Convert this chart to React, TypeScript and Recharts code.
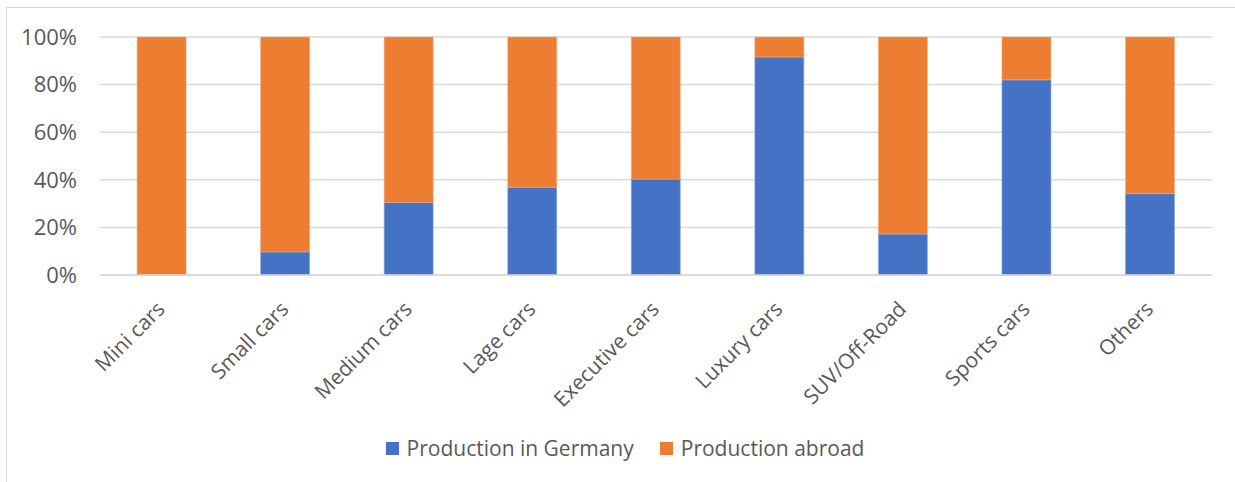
import { Bar, BarChart, CartesianGrid, Legend, XAxis, YAxis } from "recharts";

const categories = [
  "Mini cars",
  "Small cars",
  "Medium cars",
  "Lage cars",
  "Executive cars",
  "Luxury cars",
  "SUV/Off-Road",
  "Sports cars",
  "Others",
];

// share produced in Germany, in percent
const germany = [0, 9.7, 30.5, 36.9, 40.3, 91.6, 17.2, 82.0, 34.2];
const abroad = germany.map((g) => 100 - g);

const yTicks = [0, 20, 40, 60, 80, 100];

const data = categories.map((name, i) => ({
  name,
  germany: germany[i],
  abroad: abroad[i],
}));

const FONT = "'Open Sans', sans-serif";
const TEXT = "#595959";

const AngledTick = (props: any) => {
  const { x, y, payload } = props;
  return (
    <g transform={`translate(${x - 6},${y + 17})`}>
      <text
        textAnchor="end"
        transform="rotate(-45)"
        dy="0.7em"
        fill={TEXT}
        fontSize={21}
        fontFamily={FONT}
      >
        {payload.value}
      </text>
    </g>
  );
};

const legendItems = [
  { label: "Production in Germany", color: "#4472C4" },
  { label: "Production abroad", color: "#ED7D31" },
];

const LegendContent = () => (
  <div
    style={{
      display: "flex",
      justifyContent: "center",
      gap: 26,
      paddingLeft: 38,
      fontFamily: FONT,
      fontSize: 21,
      color: TEXT,
    }}
  >
    {legendItems.map((it) => (
      <div key={it.label} style={{ display: "flex", alignItems: "center" }}>
        <span
          style={{
            width: 13,
            height: 13,
            background: it.color,
            marginRight: 8,
            display: "inline-block",
          }}
        />
        {it.label}
      </div>
    ))}
  </div>
);

export default function App() {
  return (
    <div style={{ position: "absolute", left: 0, top: 0, width: 1235, height: 482, background: "#fff" }}>
      <div
        style={{
          position: "absolute",
          left: 6,
          top: 7,
          width: 1240,
          height: 500,
          border: "1px solid #d9d9d9",
        }}
      />
      <BarChart
        width={1235}
        height={482}
        data={data}
        margin={{ top: 37, right: 23, left: 0, bottom: 0 }}
        barCategoryGap="30%"
      >
        <CartesianGrid vertical={false} stroke="#d9d9d9" strokeWidth={1.5} />
        <XAxis
          dataKey="name"
          interval={0}
          tickLine={false}
          axisLine={{ stroke: "#d9d9d9", strokeWidth: 1.5 }}
          height={179}
          tick={<AngledTick />}
        />
        <YAxis
          width={100}
          domain={[0, 100]}
          ticks={yTicks}
          tickFormatter={(v) => `${v}%`}
          tickLine={false}
          axisLine={false}
          tickMargin={17}
          tick={{ fill: TEXT, fontSize: 22, fontFamily: FONT }}
        />
        <Legend
          verticalAlign="bottom"
          content={<LegendContent />}
          wrapperStyle={{ bottom: 20 }}
        />
        <Bar dataKey="germany" stackId="a" fill="#4472C4" stroke="#8fa9dc" strokeWidth={0.6} isAnimationActive={false} />
        <Bar dataKey="abroad" stackId="a" fill="#ED7D31" stroke="#f4ad80" strokeWidth={0.6} isAnimationActive={false} />
      </BarChart>
    </div>
  );
}
